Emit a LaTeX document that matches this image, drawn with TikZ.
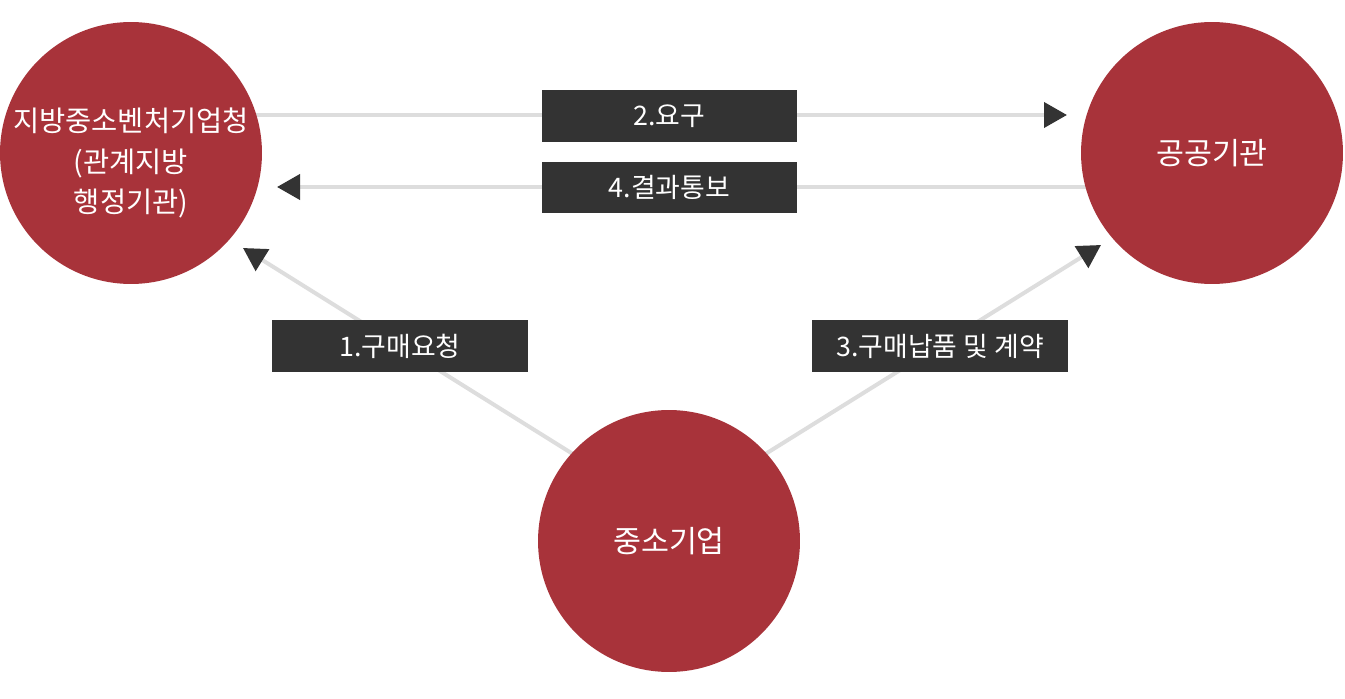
\documentclass[tikz,border=0pt]{standalone}
\usepackage{fontspec}
\setmainfont{Noto Sans CJK KR}
\usepackage{tikz}
\usetikzlibrary{arrows.meta,positioning,backgrounds}
\definecolor{agencyred}{HTML}{A8333A}
\definecolor{boxdark}{HTML}{333333}
\definecolor{linegray}{HTML}{DDDDDD}

\begin{document}
\begin{tikzpicture}[
    x=0.02cm, y=-0.02cm,
    agency/.style={circle, fill=agencyred, minimum size=5.24cm, inner sep=0pt,
        text=white, font=\fontsize{17.3pt}{23.3pt}\selectfont, align=center},
    agencytext/.style={text=white, font=\fontsize{16.2pt}{23.3pt}\selectfont, align=center},
    stepbox/.style={fill=boxdark, minimum width=5.12cm, minimum height=1.04cm,
        inner sep=0pt, text=white, font=\fontsize{15.3pt}{18pt}\selectfont},
    flow/.style={draw=linegray, line width=0.08cm,
        -{Triangle[length=0.46cm, width=0.5cm, color=boxdark]}},
]
\useasboundingbox (0,0) rectangle (1345,699);

  % 기관
  \node[agency, label={[agencytext, yshift=-0.2cm]center:지방중소벤처기업청\\(관계지방\\행정기관)}] (smba) at (131,153) {};
  \node[agency] (public) at (1212,153) {공공기관};
  \node[agency] (firm) at (669,541) {중소기업};

  % 화살표 끝점
  \coordinate (tipPublic) at (1067,115);
  \coordinate (tipSmba) at (277,187);
  \coordinate (tipUp) at (243,248);
  \coordinate (tipRight) at (1101,245);
  \coordinate (firmHub) at ([yshift=0.54cm]firm.center);

  % 연결선
  \begin{scope}[on background layer]
    \draw[flow] (smba.center |- tipPublic) -- (tipPublic);
    \draw[flow] (public.center |- tipSmba) -- (tipSmba);
    \draw[flow] (firmHub) -- (tipUp);
    \draw[flow] (firmHub) -- (tipRight);
  \end{scope}

  % 단계
  \node[stepbox] (demand) at (669.5,116) {2.요구};
  \node[stepbox] (notice) at (669.5,187.5) {4.결과통보};
  \node[stepbox] (request) at (400,346) {1.구매요청};
  \node[stepbox] (deliver) at (940,346) {3.구매납품 및 계약};
\end{tikzpicture}
\end{document}
